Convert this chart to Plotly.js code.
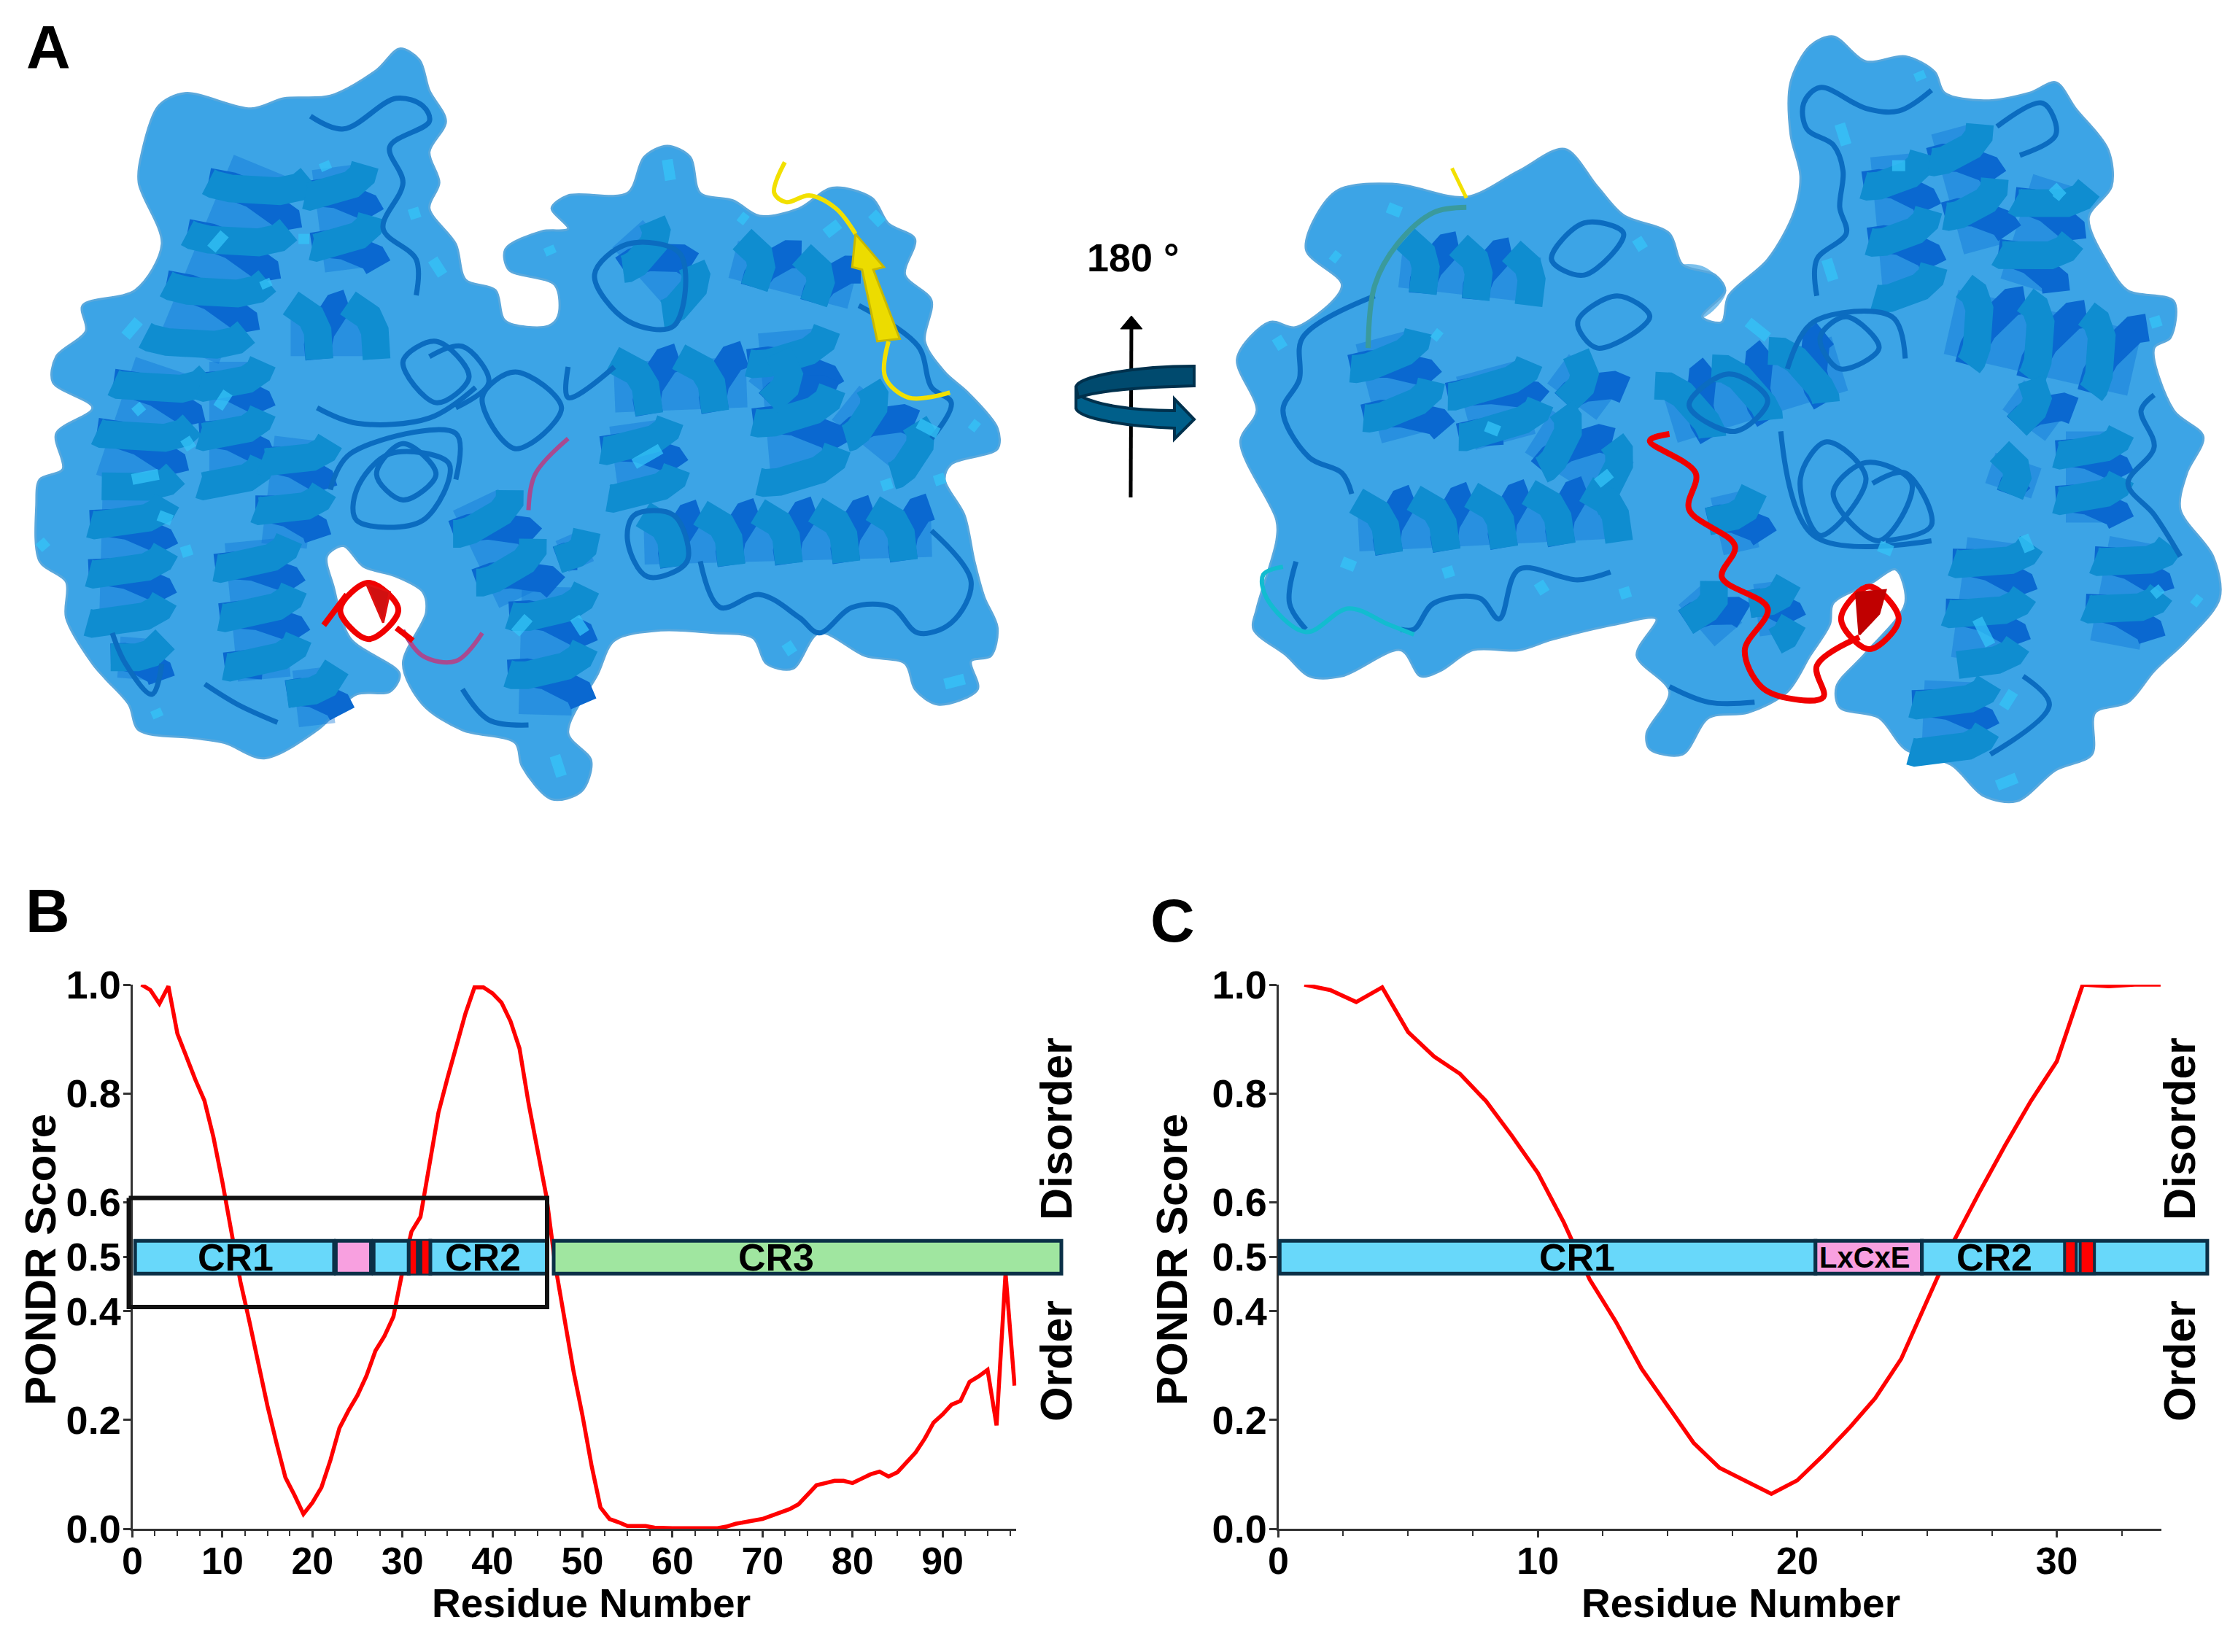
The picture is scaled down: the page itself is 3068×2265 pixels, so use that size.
<!DOCTYPE html>
<html><head><meta charset="utf-8">
<script src="https://cdn.plot.ly/plotly-3.0.1.min.js"></script>
<style>html,body{margin:0;padding:0;background:#fff}</style></head>
<body><div id="chart" style="width:3068px;height:2265px"></div>
<script>
// ---------- Panel B data ----------
const residuesB = [1,2,3,4,5,6,7,8,9,10,11,12,13,14,15,16,17,18,19,20,21,22,23,24,25,26,27,28,29,30,31,32,33,34,35,36,37,38,39,40,41,42,43,44,45,46,47,48,49,50,51,52,53,54,55,56,57,58,59,60,61,62,63,64,65,66,67,68,69,70,71,72,73,74,75,76,77,78,79,80,81,82,83,84,85,86,87,88,89,90,91,92,93,94,95,96,97,98];
const scoreB = [1.0,.99,.965,.997,.91,.865,.825,.787,.72,.637,.545,.454,.381,.30,.226,.158,.094,.062,.027,.048,.076,.126,.185,.217,.245,.281,.327,.354,.39,.473,.546,.573,.673,.765,.828,.888,.947,.995,.995,.984,.967,.933,.883,.783,.692,.61,.482,.381,.29,.208,.117,.039,.018,.012,.005,.005,.005,.002,.001,.001,.001,.001,.001,.001,.001,.004,.009,.012,.015,.018,.024,.03,.036,.045,.062,.08,.084,.088,.088,.084,.092,.1,.105,.096,.104,.122,.14,.165,.195,.21,.228,.235,.27,.28,.292,.19,.47,.263];
// ---------- Panel C data ----------
const residuesC = [1,2,3,4,5,6,7,8,9,10,11,12,13,14,15,16,17,18,19,20,21,22,23,24,25,26,27,28,29,30,31,32,33,34];
const scoreC = [1.0,.99,.968,.995,.913,.868,.836,.786,.722,.654,.563,.458,.381,.294,.226,.158,.112,.089,.064,.089,.135,.185,.24,.312,.417,.526,.617,.704,.786,.859,1.0,.997,1.0,1.0];
// ---------- Domain maps ----------
const BLUE='#68d8fa', PINK='#f8a0e0', GREEN='#a0e6a0', RED='#ff0000', NAVY='#0b3047';
const barStartB = [0.3,22.6,26.8,30.7,33.1,46.8,30.9,32.2];
const barEndB   = [22.4,26.5,30.7,33.1,46.07,103.2,31.5,32.9];
const barColorB = [BLUE,PINK,BLUE,NAVY,BLUE,GREEN,RED,RED];
const barEdgeB  = [5,5,5,5,5,5,0,0];
const barStartC = [0.05,20.7,24.8,30.3,30.9];
const barEndC   = [20.7,24.8,35.8,30.75,31.45];
const barColorC = [BLUE,PINK,BLUE,RED,RED];
const barEdgeC  = [5,5,5,4,4];
const boxX = [-0.4,46.07,46.07,-0.4,-0.4], boxY = [.608,.608,.4075,.4075,.608];
const labelsB = [['CR1',11.5],['CR2',38.9],['CR3',71.5]];
const labelsC = [['CR1',11.5],['CR2',27.6],['LxCxE',22.6]];
const yTicks = [0,.2,.4,.5,.6,.8,1], yTickText = ['0.0','0.2','0.4','0.5','0.6','0.8','1.0'];
const xTicksB = [0,10,20,30,40,50,60,70,80,90], xTicksC = [0,10,20,30];

// ---------- Panel A illustration, traced in crop coordinates ----------
const outlineL = [[605,38],[635,60],[650,120],[675,180],[650,240],[665,300],[650,350],[690,420],[705,490],[750,510],[765,570],[830,580],[845,560],[840,500],[770,470],[765,430],[820,395],[860,390],[835,350],[860,325],[950,320],[975,250],[1010,228],[1045,250],[1060,320],[1110,335],[1150,365],[1210,350],[1260,310],[1320,330],[1345,380],[1385,410],[1370,480],[1410,530],[1400,610],[1430,670],[1465,710],[1510,780],[1510,820],[1440,850],[1430,880],[1460,950],[1475,1040],[1490,1110],[1510,1170],[1500,1225],[1470,1235],[1480,1290],[1420,1320],[1385,1290],[1370,1240],[1310,1225],[1240,1180],[1200,1250],[1160,1240],[1140,1190],[1080,1180],[1000,1175],[930,1195],[905,1260],[860,1375],[895,1430],[880,1490],[835,1505],[790,1440],[780,1395],[700,1370],[640,1320],[610,1240],[645,1140],[640,1100],[600,1070],[550,1050],[520,1010],[495,1030],[505,1090],[530,1190],[605,1260],[590,1295],[540,1300],[480,1370],[400,1425],[340,1395],[290,1385],[210,1370],[195,1320],[160,1270],[140,1240],[100,1150],[100,1080],[60,1040],[55,930],[60,880],[95,860],[85,790],[140,740],[80,690],[85,640],[130,590],[125,540],[205,510],[245,420],[210,300],[215,240],[240,150],[280,125],[380,155],[430,135],[500,130],[570,80],[605,38]];
const outlineR = [[950,42],[1000,90],[1060,80],[1105,110],[1120,150],[1180,165],[1250,150],[1290,130],[1320,180],[1370,260],[1375,330],[1340,390],[1370,480],[1400,530],[1470,550],[1465,620],[1440,640],[1470,760],[1515,810],[1490,880],[1480,950],[1530,1040],[1540,1120],[1490,1200],[1440,1260],[1400,1320],[1350,1340],[1345,1420],[1290,1450],[1230,1510],[1180,1500],[1130,1440],[1060,1410],[1020,1350],[960,1330],[955,1290],[1000,1225],[1060,1130],[1045,1065],[1010,1090],[950,1130],[945,1170],[915,1230],[880,1300],[820,1340],[760,1350],[720,1420],[670,1410],[665,1380],[700,1300],[650,1230],[680,1160],[620,1170],[520,1200],[470,1220],[400,1220],[350,1260],[320,1270],[290,1220],[200,1270],[150,1270],[115,1230],[65,1180],[70,1140],[100,1010],[100,970],[45,820],[70,760],[40,660],[90,590],[130,600],[200,520],[145,450],[190,340],[280,325],[390,350],[470,300],[540,258],[590,330],[630,385],[700,420],[720,480],[770,500],[785,530],[750,580],[780,590],[790,540],[850,470],[890,380],[900,310],[885,230],[885,130],[915,60],[950,42]];
const paleR = [[700,490],[750,485],[785,530],[750,580],[710,570],[700,490]];

// Helix cartoons: start x, start y, end x, end y, radius, number of turns
const helicesL = [[400,270,285,630,72,3.6],[250,660,190,890,68,2.4],[195,920,190,1170,58,2.6],[210,1190,205,1270,40,1],[505,270,525,470,48,2],[440,590,570,590,55,1.5],[350,650,350,900,48,2.6],[450,800,430,1010,50,2.2],[380,1000,400,1270,58,2.8],[470,1250,480,1360,40,1.2],[720,920,790,1110,55,2],[830,1090,825,1340,58,2.2],[860,990,880,1050,30,.8],[930,700,1130,690,55,2],[960,770,975,910,55,1.5],[1190,590,1210,880,62,2.5],[1280,730,1385,840,48,1.5],[975,1000,1410,985,52,5],[1110,450,1290,510,42,2],[950,400,1040,530,45,1.5],[1150,660,1250,760,40,1.2]];
const helicesR = [[290,480,500,510,50,2.6],[260,620,300,810,58,2],[420,680,450,820,68,1.8],[530,680,605,750,40,1],[500,800,625,900,55,1.6],[225,985,620,960,52,4.5],[700,770,960,670,62,3],[1040,270,1060,540,48,2.5],[1130,220,1180,450,45,2.2],[1290,320,1240,520,52,2],[1130,590,1410,670,72,3],[1225,730,1290,790,40,1],[1340,800,1340,975,50,2],[1410,1010,1380,1210,55,2.2],[1195,1010,1170,1240,58,2.4],[1130,1280,1125,1425,58,1.6],[790,920,810,1030,40,1.2],[735,1110,790,1190,40,1.2],[850,1090,860,1190,32,1.3],[1190,870,1260,900,35,.8]];
const thinL = [[[470,170],[520,195],[600,135],[640,150],[650,180],[590,230],[610,300],[580,390],[630,450],[630,520]],[[1060,1040],[1090,1130],[1150,1105],[1210,1150],[1240,1180],[1290,1130],[1350,1130],[1390,1180],[1440,1160],[1470,1080],[1410,980]],[[570,870],[610,810],[660,870],[610,920],[570,870]],[[540,900],[590,830],[680,850],[640,960],[540,960],[540,900]],[[500,900],[530,830],[690,790],[690,880]],[[610,650],[660,610],[710,680],[660,730],[610,650]],[[730,720],[780,670],[850,740],[780,820],[730,720]],[[650,640],[700,620],[740,690],[690,740]],[[480,740],[540,770],[650,760],[720,700]],[[900,480],[950,420],[1030,440],[1020,580],[950,570],[900,480]],[[860,660],[860,720],[930,660]],[[960,950],[1020,950],[1040,1040],[980,1070],[950,1000],[960,950]],[[310,1280],[360,1320],[420,1355]],[[1300,540],[1390,620],[1410,700],[1440,730],[1410,800]],[[170,1180],[190,1240],[230,1300],[245,1240]],[[700,1290],[740,1350],[800,1360]]];
const thinR = [[[1100,145],[1050,185],[1000,180],[930,140],[905,170],[910,220],[950,250],[965,300],[960,370],[970,420],[925,470],[925,540]],[[1200,215],[1270,170],[1290,230],[1235,270]],[[1240,1270],[1280,1325],[1190,1420]],[[250,540],[140,620],[135,700],[110,760],[150,850],[200,880],[215,920]],[[610,1070],[560,1085],[470,1065],[440,1160],[410,1120],[340,1130],[310,1180],[290,1180]],[[130,1050],[120,1130],[145,1180]],[[1440,730],[1420,760],[1440,830],[1400,900],[1440,960],[1480,1040]],[[900,890],[940,820],[1000,890],[930,1000],[900,890]],[[950,920],[1000,860],[1070,900],[1020,1010],[950,920]],[[1010,900],[1060,880],[1100,980],[1030,1010]],[[930,620],[970,580],[1020,640],[960,680],[930,620]],[[520,470],[570,400],[630,420],[570,500],[520,470]],[[730,750],[790,690],[850,740],[800,800],[730,750]],[[880,680],[920,590],[1040,580],[1060,660]],[[560,590],[620,540],[670,580],[590,640],[560,590]],[[870,800],[920,1000],[1100,1010]],[[700,1290],[760,1320],[830,1320]]];
const spotsL = [[[1010,255],[1015,295]],[[400,490],[405,505]],[[460,400],[460,420]],[[490,260],[495,275]],[[625,350],[630,370]],[[655,450],[670,480]],[[210,570],[190,600]],[[205,735],[215,750]],[[280,800],[290,820]],[[240,950],[260,960]],[[1120,365],[1130,375]],[[1320,360],[1335,380]],[[1470,770],[1480,780]],[[840,1420],[850,1460]],[[1430,1280],[1460,1270]],[[235,1330],[240,1345]],[[280,1010],[285,1030]],[[870,1150],[885,1180]],[[1000,820],[960,850]],[[1190,1200],[1200,1220]],[[1420,870],[1425,890]],[[320,430],[340,400]],[[1250,400],[1270,380]],[[830,425],[835,440]],[[1340,880],[1345,900]],[[1420,790],[1390,770]],[[780,1180],[800,1150]],[[345,710],[330,740]],[[200,880],[240,870]],[[60,1000],[70,1015]]];
const spotsR = [[[270,370],[290,380]],[[100,620],[110,640]],[[1080,110],[1085,125]],[[960,210],[970,250]],[[1300,350],[1285,330]],[[1440,580],[1445,600]],[[1500,1120],[1510,1130]],[[820,590],[850,620]],[[1225,1300],[1210,1330]],[[1200,1480],[1230,1465]],[[360,1060],[365,1080]],[[630,1100],[635,1120]],[[200,1050],[220,1060]],[[185,460],[195,470]],[[650,430],[660,450]],[[940,470],[950,510]],[[420,790],[440,800]],[[1240,1000],[1250,1030]],[[1040,290],[1060,290]],[[1290,340],[1300,350]],[[1170,1160],[1190,1210]],[[500,1090],[510,1110]],[[1020,1020],[1040,1030]],[[340,610],[350,620]],[[1440,1100],[1450,1115]],[[590,900],[610,880]]];

// Turns a helix's axis into back-half and front-half ribbon strokes (illustration geometry, not chart data)
function helixStrokes(list){
 const back=[],front=[];
 list.forEach(h=>{
  const [x0,y0,x1,y1,r,turns]=h, dx=x1-x0, dy=y1-y0, len=Math.hypot(dx,dy), nx=-dy/len, ny=dx/len, ax=dx/len, ay=dy/len;
  const pitch=len/turns, halves=Math.max(2,Math.round(turns*2));
  for(let k=0;k<halves;k++){
   const seg=[];
   for(let j=0;j<=6;j++){
    const t=(k+j/6)/(turns*2), th=2*Math.PI*turns*t;
    if(t>1) break;
    const a=-Math.cos(th)*r, b=pitch*0.22*Math.sin(th);
    seg.push([x0+dx*t+nx*a+ax*b, y0+dy*t+ny*a+ay*b]);
   }
   if(seg.length>1) (k%2?back:front).push(seg);
  }
 });
 return {back,front};
}
function join(list){const x=[],y=[];list.forEach(s=>{s.forEach(p=>{x.push(p[0]);y.push(p[1]);});x.push(null);y.push(null);});return {x,y};}
function stroke(list,color,width,ax,opacity,shape){const j=join(list);return {type:'scatter',mode:'lines',x:j.x,y:j.y,xaxis:ax[0],yaxis:ax[1],line:{color,width,shape:shape||'spline',smoothing:1},opacity:opacity===undefined?1:opacity,hoverinfo:'skip',showlegend:false,cliponaxis:false};}
function fillPoly(pts,color,ax,lineColor,shape){return {type:'scatter',mode:'lines',x:pts.map(p=>p[0]),y:pts.map(p=>p[1]),xaxis:ax[0],yaxis:ax[1],fill:'toself',fillcolor:color,line:{color:lineColor||color,width:3,shape:shape||'spline',smoothing:0.9},hoverinfo:'skip',showlegend:false,cliponaxis:false};}
function cores(list,ax){return list.map(h=>stroke([[[h[0],h[1]],[h[2],h[3]]]],'#0a74d8',h[4]*1.25,ax,.4,'linear'));}

const axL=['x3','y3'], axR=['x4','y4'];
const SURF='#3ca4e6', EDGE='#5aa8dc', DARK='#0a68d0', MID='#0f8dd0', THIN='#0b6cc0', LIGHT='#35c4f8';
const hL=helixStrokes(helicesL), hR=helixStrokes(helicesR);
const art = [
 fillPoly(outlineL,SURF,axL,EDGE),
 ...cores(helicesL,axL),
 stroke(hL.back,DARK,38,axL,1,'linear'), stroke(hL.front,MID,38,axL,1,'linear'), stroke(thinL,THIN,7,axL), stroke(spotsL,LIGHT,15,axL,.75),
 stroke([[[1188,260],[1172,320],[1190,338],[1225,325],[1265,350],[1295,400]],[[1345,610],[1340,680],[1375,720],[1438,710]]],'#f2e000',6,axL),
 fillPoly([[1295,400],[1338,465],[1322,470],[1362,605],[1328,610],[1305,470],[1290,465],[1295,400]],'#ecdc00',axL,'#c8b800','linear'),
 stroke([[[800,940],[810,870],[860,800]],[[610,1175],[640,1225],[690,1235],[730,1180]]],'#a84a90',6,axL),
 stroke([[[515,1135],[558,1082],[603,1135],[558,1192],[515,1135]],[[490,1165],[525,1105]],[[600,1170],[625,1195]]],'#f00000',8,axL),
 fillPoly([[555,1085],[590,1100],[580,1160],[555,1085]],'#d01010',axL,'#e01010','linear'),

 fillPoly(paleR,'#7cc0ec',axR),
 fillPoly(outlineR,SURF,axR,EDGE),
 ...cores(helicesR,axR),
 stroke(hR.back,DARK,38,axR,1,'linear'), stroke(hR.front,MID,38,axR,1,'linear'), stroke(thinR,THIN,7,axR), stroke(spotsR,LIGHT,15,axR,.75),
 stroke([[[368,295],[390,352]]],'#f2e000',5,axR),
 stroke([[[390,370],[340,380],[285,440],[250,520],[240,640]]],'#3a9a9c',7,axR),
 stroke([[[110,1060],[80,1075],[85,1120],[145,1185],[210,1140],[270,1170],[310,1190]]],'#12bcd0',6,axR),
 stroke([[[700,805],[670,818],[740,880],[730,950],[800,1020],[780,1080],[850,1140],[815,1220],[840,1290],[880,1312],[935,1310],[925,1250],[990,1195]],[[962,1160],[1005,1098],[1050,1160],[1005,1218],[962,1160]]],'#f00000',8,axR),
 fillPoly([[985,1110],[1030,1105],[1020,1150],[990,1190],[985,1110]],'#c00000',axR,'#c00000','linear')
];

// ---------- Chart traces ----------
const lineB={type:'scatter',mode:'lines',x:residuesB,y:scoreB,xaxis:'x',yaxis:'y',line:{color:RED,width:5.5},cliponaxis:false,hoverinfo:'skip',showlegend:false};
const lineC={type:'scatter',mode:'lines',x:residuesC,y:scoreC,xaxis:'x2',yaxis:'y2',line:{color:RED,width:5.5},cliponaxis:false,hoverinfo:'skip',showlegend:false};
function domainBars(st,en,col,edge,ax){return {type:'bar',orientation:'h',base:st,x:en.map((e,i)=>e-st[i]),y:st.map(()=>.499),width:.0605,xaxis:ax[0],yaxis:ax[1],marker:{color:col,line:{color:NAVY,width:edge}},hoverinfo:'skip',showlegend:false,cliponaxis:false};}
const barsB=domainBars(barStartB,barEndB,barColorB,barEdgeB,['x5','y5']);
const barsC=domainBars(barStartC,barEndC,barColorC,barEdgeC,['x6','y6']);
const box={type:'scatter',mode:'lines',x:boxX,y:boxY,xaxis:'x5',yaxis:'y5',line:{color:'#111',width:6},cliponaxis:false,hoverinfo:'skip',showlegend:false};

// ---------- Layout helpers (pixels to paper) ----------
const W=3068,H=2265;
const px=(a,b)=>[a/W,b/W], py=(top,bot)=>[1-bot/H,1-top/H];
const FONT='Liberation Sans';
const B0=181.5, BS=12.34, C0=1752.5, CS=35.57, YT=1350, YB=2096;
function axX(dom,range,vals,anchor){return {domain:dom,range,anchor,tickmode:'array',tickvals:vals,ticktext:vals.map(String),ticks:'outside',ticklen:9,tickwidth:3,tickcolor:'#333',showline:true,linecolor:'#333',linewidth:3,zeroline:false,showgrid:false,ticklabelstandoff:-12,tickfont:{family:FONT,size:52,color:'#000',weight:700},minor:{tickmode:'linear',dtick:2.5,tick0:0,ticks:'outside',ticklen:7,tickwidth:2,tickcolor:'#333',showgrid:false},fixedrange:true};}
function axY(dom,anchor){return {domain:dom,range:[0,1],anchor,tickmode:'array',tickvals:yTicks,ticktext:yTickText,ticks:'outside',ticklen:10,tickwidth:3,tickcolor:'#333',showline:true,linecolor:'#333',linewidth:3,zeroline:false,showgrid:false,ticklabelstandoff:-8,tickfont:{family:FONT,size:54,color:'#000',weight:700},fixedrange:true};}
function hidden(dom,range,anchor){return {domain:dom,range,anchor,visible:false,fixedrange:true};}
function txt(t,x,y,size,opt){return Object.assign({text:'<b>'+t+'</b>',x:x/W,y:1-y/H,xref:'paper',yref:'paper',showarrow:false,xanchor:'center',yanchor:'middle',font:{family:FONT,size,color:'#000'}},opt||{});}
function inBar(t,x,ax,size){return {text:'<b>'+t+'</b>',x,y:.499,xref:ax[0],yref:ax[1],showarrow:false,xanchor:'center',yanchor:'middle',font:{family:FONT,size:size||52,color:'#000'}};}

const pB=[B0,B0+98.2*BS], pC=[C0,C0+34.03*CS];
const ovB=[B0-5*BS,B0+106*BS], ovC=[C0-1*CS,C0+36.5*CS];
const layout={
 width:W,height:H,margin:{l:0,r:0,t:0,b:0},paper_bgcolor:'#fff',plot_bgcolor:'rgba(0,0,0,0)',showlegend:false,barmode:'overlay',
 xaxis:axX(px(pB[0],pB[1]),[0,98.2],xTicksB,'y'), yaxis:axY(py(YT,YB),'x'),
 xaxis2:axX(px(pC[0],pC[1]),[0,34.03],xTicksC,'y2'), yaxis2:axY(py(YT,YB),'x2'),
 xaxis3:hidden(px(0,1420),[0,1568],'y3'), yaxis3:hidden(py(40,1140),[1568,0],'x3'),
 xaxis4:hidden(px(1660,3068),[0,1568],'y4'), yaxis4:hidden(py(20,1140),[1568,0],'x4'),
 xaxis5:hidden(px(ovB[0],ovB[1]),[-5,106],'y5'), yaxis5:hidden(py(YT,YB),[0,1],'x5'),
 xaxis6:hidden(px(ovC[0],ovC[1]),[-1,36.5],'y6'), yaxis6:hidden(py(YT,YB),[0,1],'x6'),
 xaxis7:hidden([0,1],[0,W],'y7'), yaxis7:hidden([0,1],[H,0],'x7'),
 shapes:[
  {type:'line',xref:'x7',yref:'y7',x0:1550,y0:682,x1:1551,y1:445,line:{color:'#000',width:5},layer:'above'},
  {type:'path',xref:'x7',yref:'y7',path:'M1536,451 L1551,433 L1566,451 Z',fillcolor:'#000',line:{color:'#000',width:1},layer:'above'},
  {type:'path',xref:'x7',yref:'y7',path:'M1475,530 L1475,560 C1480,575 1550,585 1610,587 L1610,602 L1637,575 L1610,547 L1610,563 C1550,563 1500,555 1478,541 Z',fillcolor:'#005f8a',line:{color:'#00314d',width:4},layer:'above'},
  {type:'path',xref:'x7',yref:'y7',path:'M1637,502 L1637,529 C1560,531 1510,535 1478,545 L1475,530 C1480,515 1560,502 1637,502 Z',fillcolor:'#004a6e',line:{color:'#00314d',width:4},layer:'above'}
 ],
 annotations:[
  txt('A',66,65,84), txt('B',65,1249,84), txt('C',1607,1262,84),
  txt('180 °',1553,353,54),
  txt('PONDR Score',55,1727,60,{textangle:-90}), txt('PONDR Score',1606,1727,60,{textangle:-90}),
  txt('Residue Number',810,2198,55), txt('Residue Number',2386,2198,55),
  txt('Disorder',1448,1548,61,{textangle:-90}), txt('Order',1448,1866,61,{textangle:-90}),
  txt('Disorder',2988,1548,61,{textangle:-90}), txt('Order',2988,1866,61,{textangle:-90}),
  ...labelsB.map(l=>inBar(l[0],l[1],['x5','y5'])),
  inBar(labelsC[0][0],labelsC[0][1],['x6','y6']), inBar(labelsC[1][0],labelsC[1][1],['x6','y6']), inBar(labelsC[2][0],labelsC[2][1],['x6','y6'],40)
 ]
};
const anchor7={type:'scatter',mode:'markers',x:[0],y:[0],xaxis:'x7',yaxis:'y7',marker:{opacity:0},hoverinfo:'skip',showlegend:false};
Plotly.newPlot('chart',[...art,lineB,lineC,barsB,barsC,box,anchor7],layout,{staticPlot:true,displayModeBar:false});
</script></body></html>
